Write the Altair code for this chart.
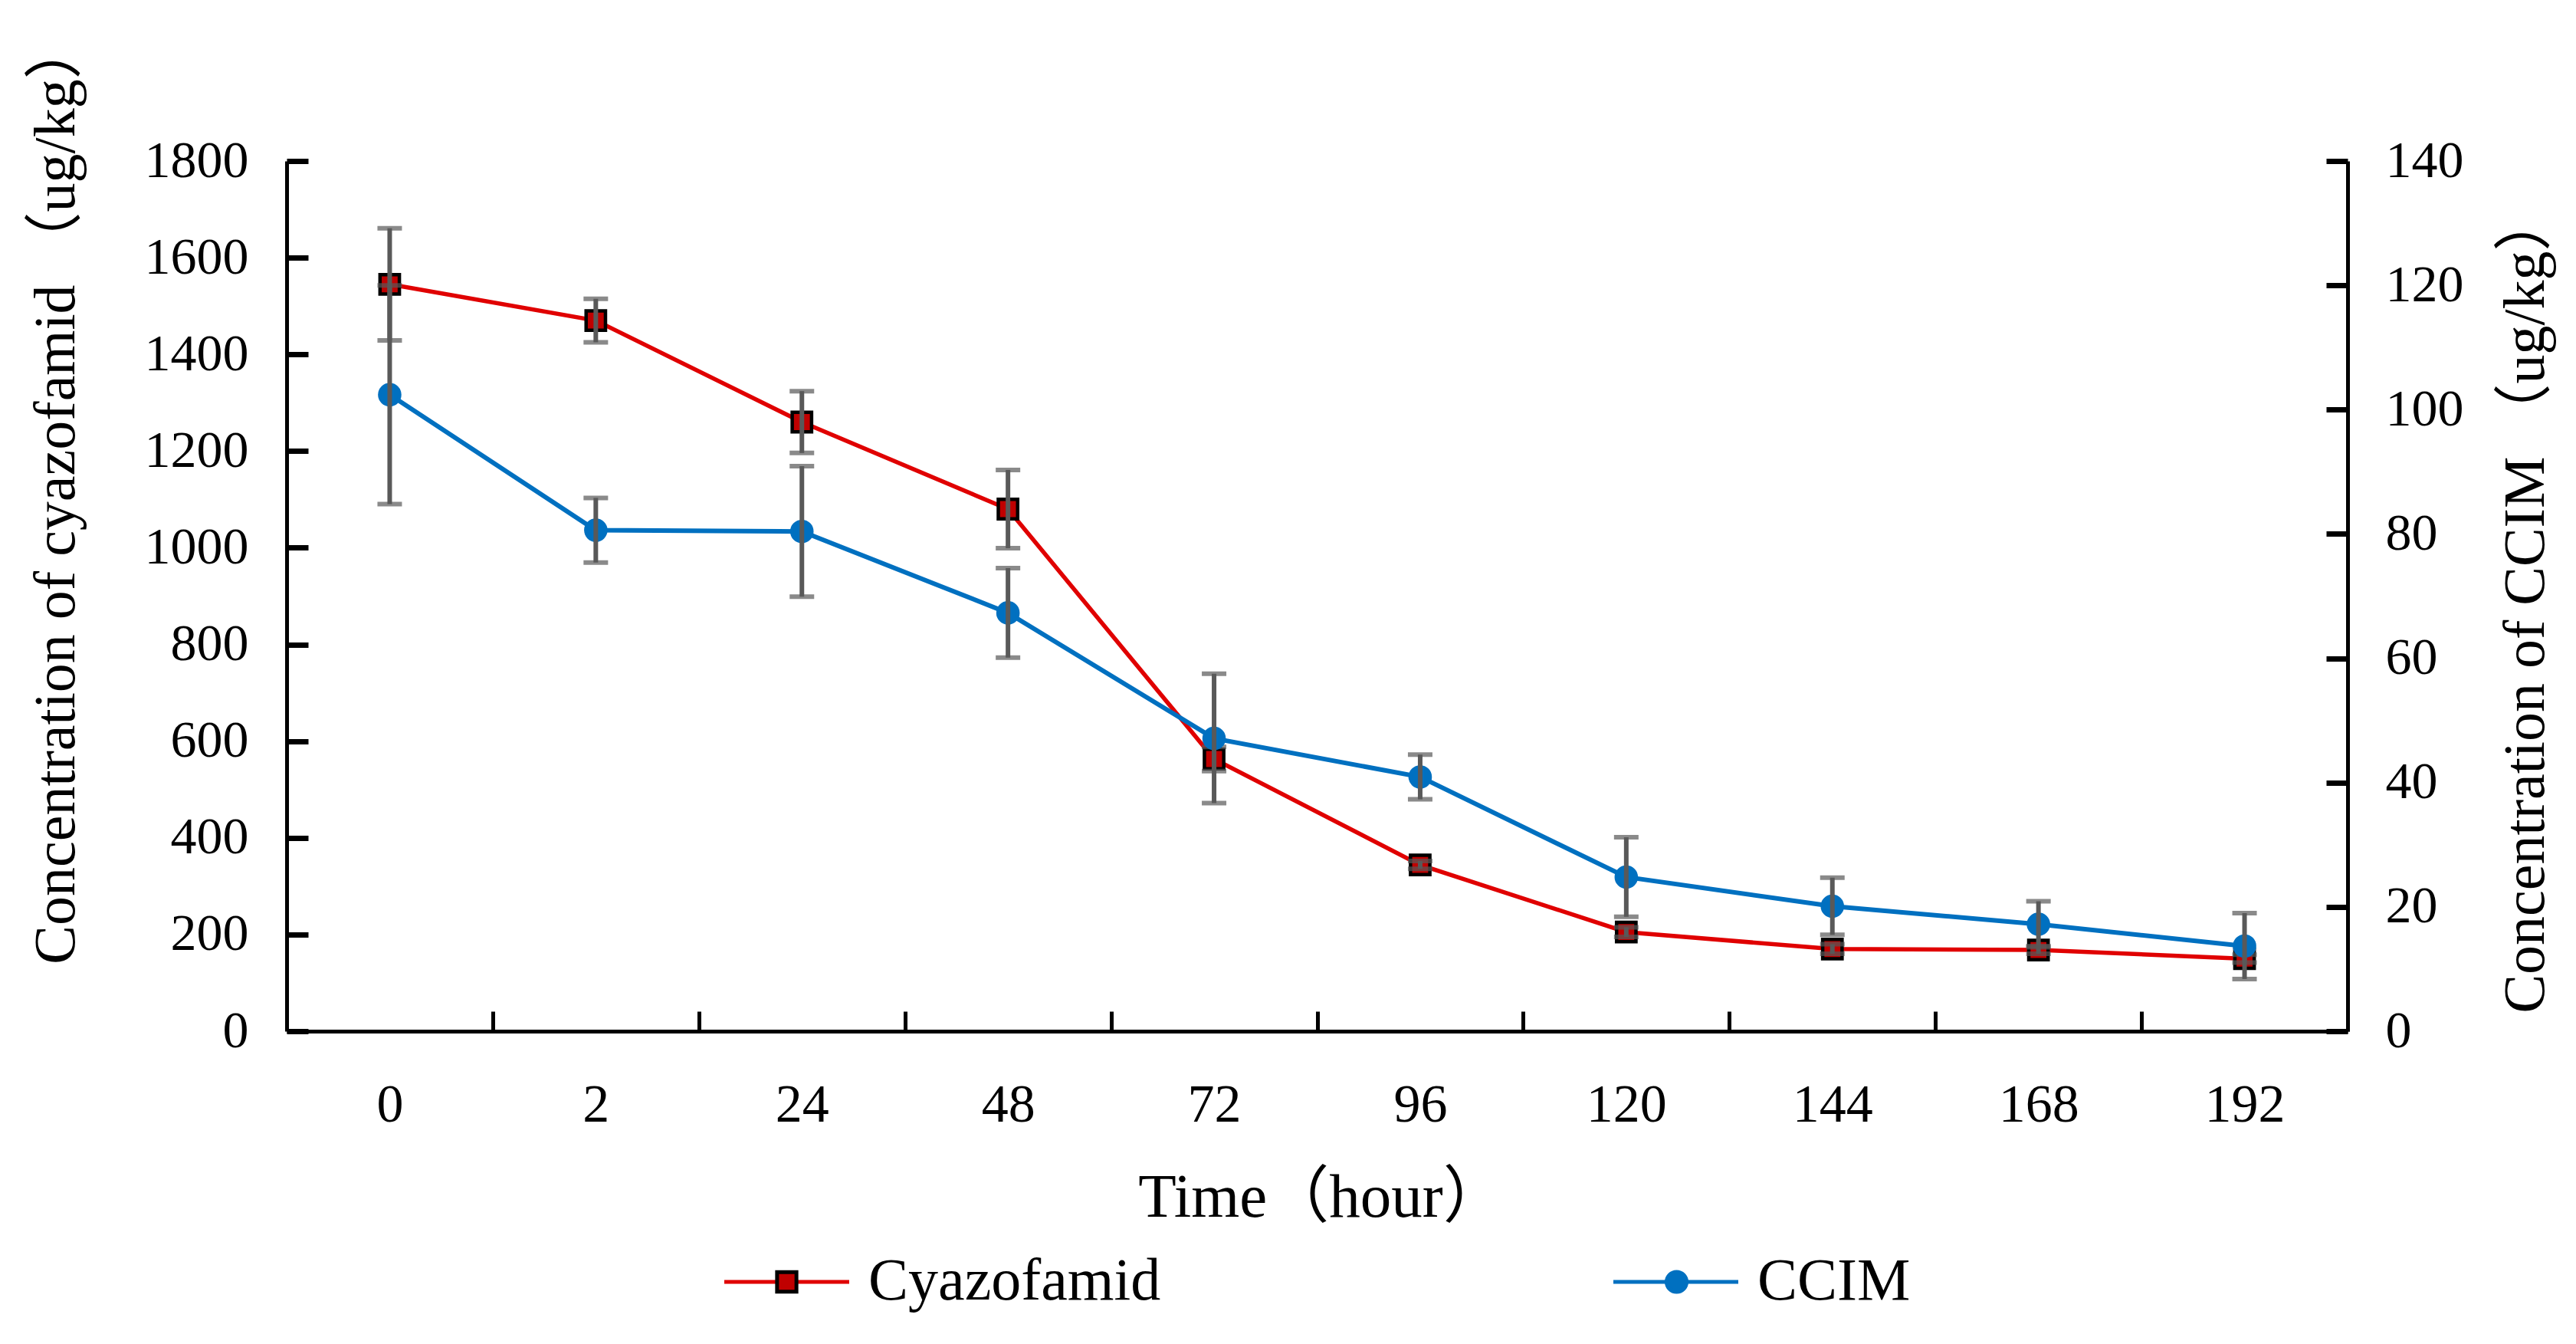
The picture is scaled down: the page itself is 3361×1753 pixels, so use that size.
import altair as alt
import pandas as pd

# ---------------- data ----------------
times = ["0", "2", "24", "48", "72", "96", "120", "144", "168", "192"]
series_names = ["Cyazofamid", "CCIM"]
cyazofamid = [1545, 1470, 1260, 1080, 563, 344, 205, 170, 168, 150]
cyazofamid_err = [116, 45, 64, 81, 25, 8, 10, 10, 8, 8]
ccim = [102.4, 80.6, 80.4, 67.3, 47.1, 40.9, 24.8, 20.1, 17.2, 13.7]
ccim_err = [17.6, 5.2, 10.5, 7.2, 10.4, 3.6, 6.4, 4.6, 3.7, 5.3]
left_ticks = [0, 200, 400, 600, 800, 1000, 1200, 1400, 1600, 1800]
right_ticks = [0, 20, 40, 60, 80, 100, 120, 140]

ZW = "\u200b"
rows = []
for name, vals, errs in [(series_names[0], cyazofamid, cyazofamid_err),
                         (series_names[1], ccim, ccim_err)]:
    for t, v, e in zip(times, vals, errs):
        rows.append({"time": t, "series": name, "series_m": name + ZW,
                     "value": v, "lo": v - e, "hi": v + e})
df = pd.DataFrame(rows)

# ---------------- style ----------------
W, H = 2689, 1135
STEP = W / len(times)
FONT = "Liberation Serif, Noto Sans CJK SC"
RED = "#E00000"
RED_FILL = "#C00000"
BLUE = "#0070C0"
GREY = "#595959"
S = 26569  # symbol size (sqrt = 163 px box for [-1,1] path coords)
SQUARE = "M-0.155,-0.155H0.155V0.155H-0.155Z"
CIRCLE = "M0.16,0A0.16,0.16,0,1,1,-0.16,0A0.16,0.16,0,1,1,0.16,0Z"

x_scale = alt.Scale(type="point", domain=times, padding=0.5)
y_left_scale = alt.Scale(domain=[0, 1800], nice=False, zero=True)
y_right_scale = alt.Scale(domain=[0, 140], nice=False, zero=True)

x_main_axis = alt.Axis(
    orient="bottom", title="Time（hour）", domain=True, domainColor="black",
    domainWidth=5, ticks=False, tickSize=0, labels=True, labelFont=FONT,
    labelFontSize=70, labelColor="black", labelPadding=62, labelAngle=0,
    labelBaseline="top", grid=False, titleFont=FONT, titleFontSize=81,
    titleFontWeight="normal", titleColor="black", titleX=1350, titleY=217,
    titleAlign="center", titleBaseline="middle")
x_tick_axis = alt.Axis(
    orient="bottom", offset=-26, domain=False, labels=False, ticks=True,
    tickSize=26, tickWidth=5, tickColor="black", tickOffset=STEP / 2,
    grid=False, title=None)

y_left_axis = alt.Axis(
    orient="left", values=left_ticks, format="d",
    title="Concentration of cyazofamid （ug/kg）", domain=True,
    domainColor="black", domainWidth=5, ticks=False, tickSize=0,
    labelFont=FONT, labelFontSize=68, labelPadding=50, labelColor="black",
    grid=False, titleFont=FONT, titleFontSize=76, titleFontWeight="normal",
    titleColor="black", titleAngle=270, titleX=-301, titleY=432,
    titleAlign="center", titleBaseline="middle")
y_left_tick_axis = alt.Axis(
    orient="left", values=left_ticks, offset=-28, domain=False, labels=False,
    ticks=True, tickSize=28, tickWidth=7, tickColor="black", grid=False,
    title=None)

y_right_axis = alt.Axis(
    orient="right", values=right_ticks, format="d",
    title="Concentration of CCIM （ug/kg）", domain=True,
    domainColor="black", domainWidth=5, ticks=False, tickSize=0,
    labelFont=FONT, labelFontSize=68, labelPadding=49, labelColor="black",
    grid=False, titleFont=FONT, titleFontSize=76, titleFontWeight="normal",
    titleColor="black", titleAngle=270, titleX=232, titleY=576,
    titleAlign="center", titleBaseline="middle")
y_right_tick_axis = alt.Axis(
    orient="right", values=right_ticks, offset=-28, domain=False, labels=False,
    ticks=True, tickSize=28, tickWidth=7, tickColor="black", grid=False,
    title=None)

LEG = dict(orient="none", legendX=568.5, legendY=1378, direction="horizontal",
           columns=2, symbolSize=S, symbolStrokeWidth=5,
           labelFont=FONT, labelFontSize=78, labelOffset=22.5,
           labelColor="black", labelLimit=2000, title=None, padding=0)
legend_line = alt.Legend(symbolType="M-1,0H1", columnPadding=580, **LEG)
legend_marker = alt.Legend(labelExpr="''", columnPadding=970, **LEG)

color_enc = alt.Color("series:N", scale=alt.Scale(domain=series_names, range=[RED, BLUE]),
                      legend=legend_line)
m_domain = [n + ZW for n in series_names]
shape_enc = alt.Shape("series_m:N", scale=alt.Scale(domain=m_domain, range=[SQUARE, CIRCLE]),
                      legend=legend_marker)
fill_enc = alt.Fill("series_m:N", scale=alt.Scale(domain=m_domain, range=[RED_FILL, BLUE]),
                    legend=legend_marker)
stroke_enc = alt.Stroke("series_m:N", scale=alt.Scale(domain=m_domain, range=["black", BLUE]),
                        legend=legend_marker)


def group(name, y_scale, y_axis, x_axis, line_width):
    base = alt.Chart(df).transform_filter(alt.datum.series == name)

    def X():
        return alt.X("time:N", scale=x_scale, axis=x_axis, title=None)

    def Y(field):
        return alt.Y(f"{field}:Q", scale=y_scale, axis=y_axis)

    line = base.mark_line(strokeWidth=line_width).encode(x=X(), y=Y("value"), color=color_enc)
    pts = base.mark_point(filled=True, size=S, strokeWidth=4.5, opacity=1).encode(
        x=X(), y=Y("value"), shape=shape_enc, fill=fill_enc, stroke=stroke_enc)
    rule = base.mark_rule(color=GREY, strokeWidth=6).encode(
        x=X(), y=Y("lo"), y2=alt.Y2("hi"))
    cap_lo = base.mark_tick(color=GREY, thickness=6, size=32, orient="horizontal").encode(
        x=X(), y=Y("lo"))
    cap_hi = base.mark_tick(color=GREY, thickness=6, size=32, orient="horizontal").encode(
        x=X(), y=Y("hi"))
    return alt.layer(line, pts, rule, cap_lo, cap_hi)


g_red = group("Cyazofamid", y_left_scale, y_left_axis, x_main_axis, 5.5)
g_blue = group("CCIM", y_right_scale, y_right_axis, None, 6)

g_ticks_left = alt.Chart(df).transform_filter(alt.datum.series == "Cyazofamid").mark_point(
    opacity=0).encode(
    x=alt.X("time:N", scale=x_scale, axis=x_tick_axis, title=None),
    y=alt.Y("value:Q", scale=y_left_scale, axis=y_left_tick_axis))
g_ticks_right = alt.Chart(df).transform_filter(alt.datum.series == "CCIM").mark_point(
    opacity=0).encode(
    x=alt.X("time:N", scale=x_scale, axis=None, title=None),
    y=alt.Y("value:Q", scale=y_right_scale, axis=y_right_tick_axis))

chart = alt.layer(g_red, g_blue, g_ticks_left, g_ticks_right).resolve_scale(
    y="independent").resolve_axis(x="independent", y="independent").properties(
    width=W, height=H,
    autosize=alt.AutoSizeParams(type="none"),
    padding={"left": 366, "top": 202, "right": 280, "bottom": 380},
    background="white",
).configure_view(stroke=None)

chart.save("out.html", embed_options={"renderer": "svg", "actions": False})
